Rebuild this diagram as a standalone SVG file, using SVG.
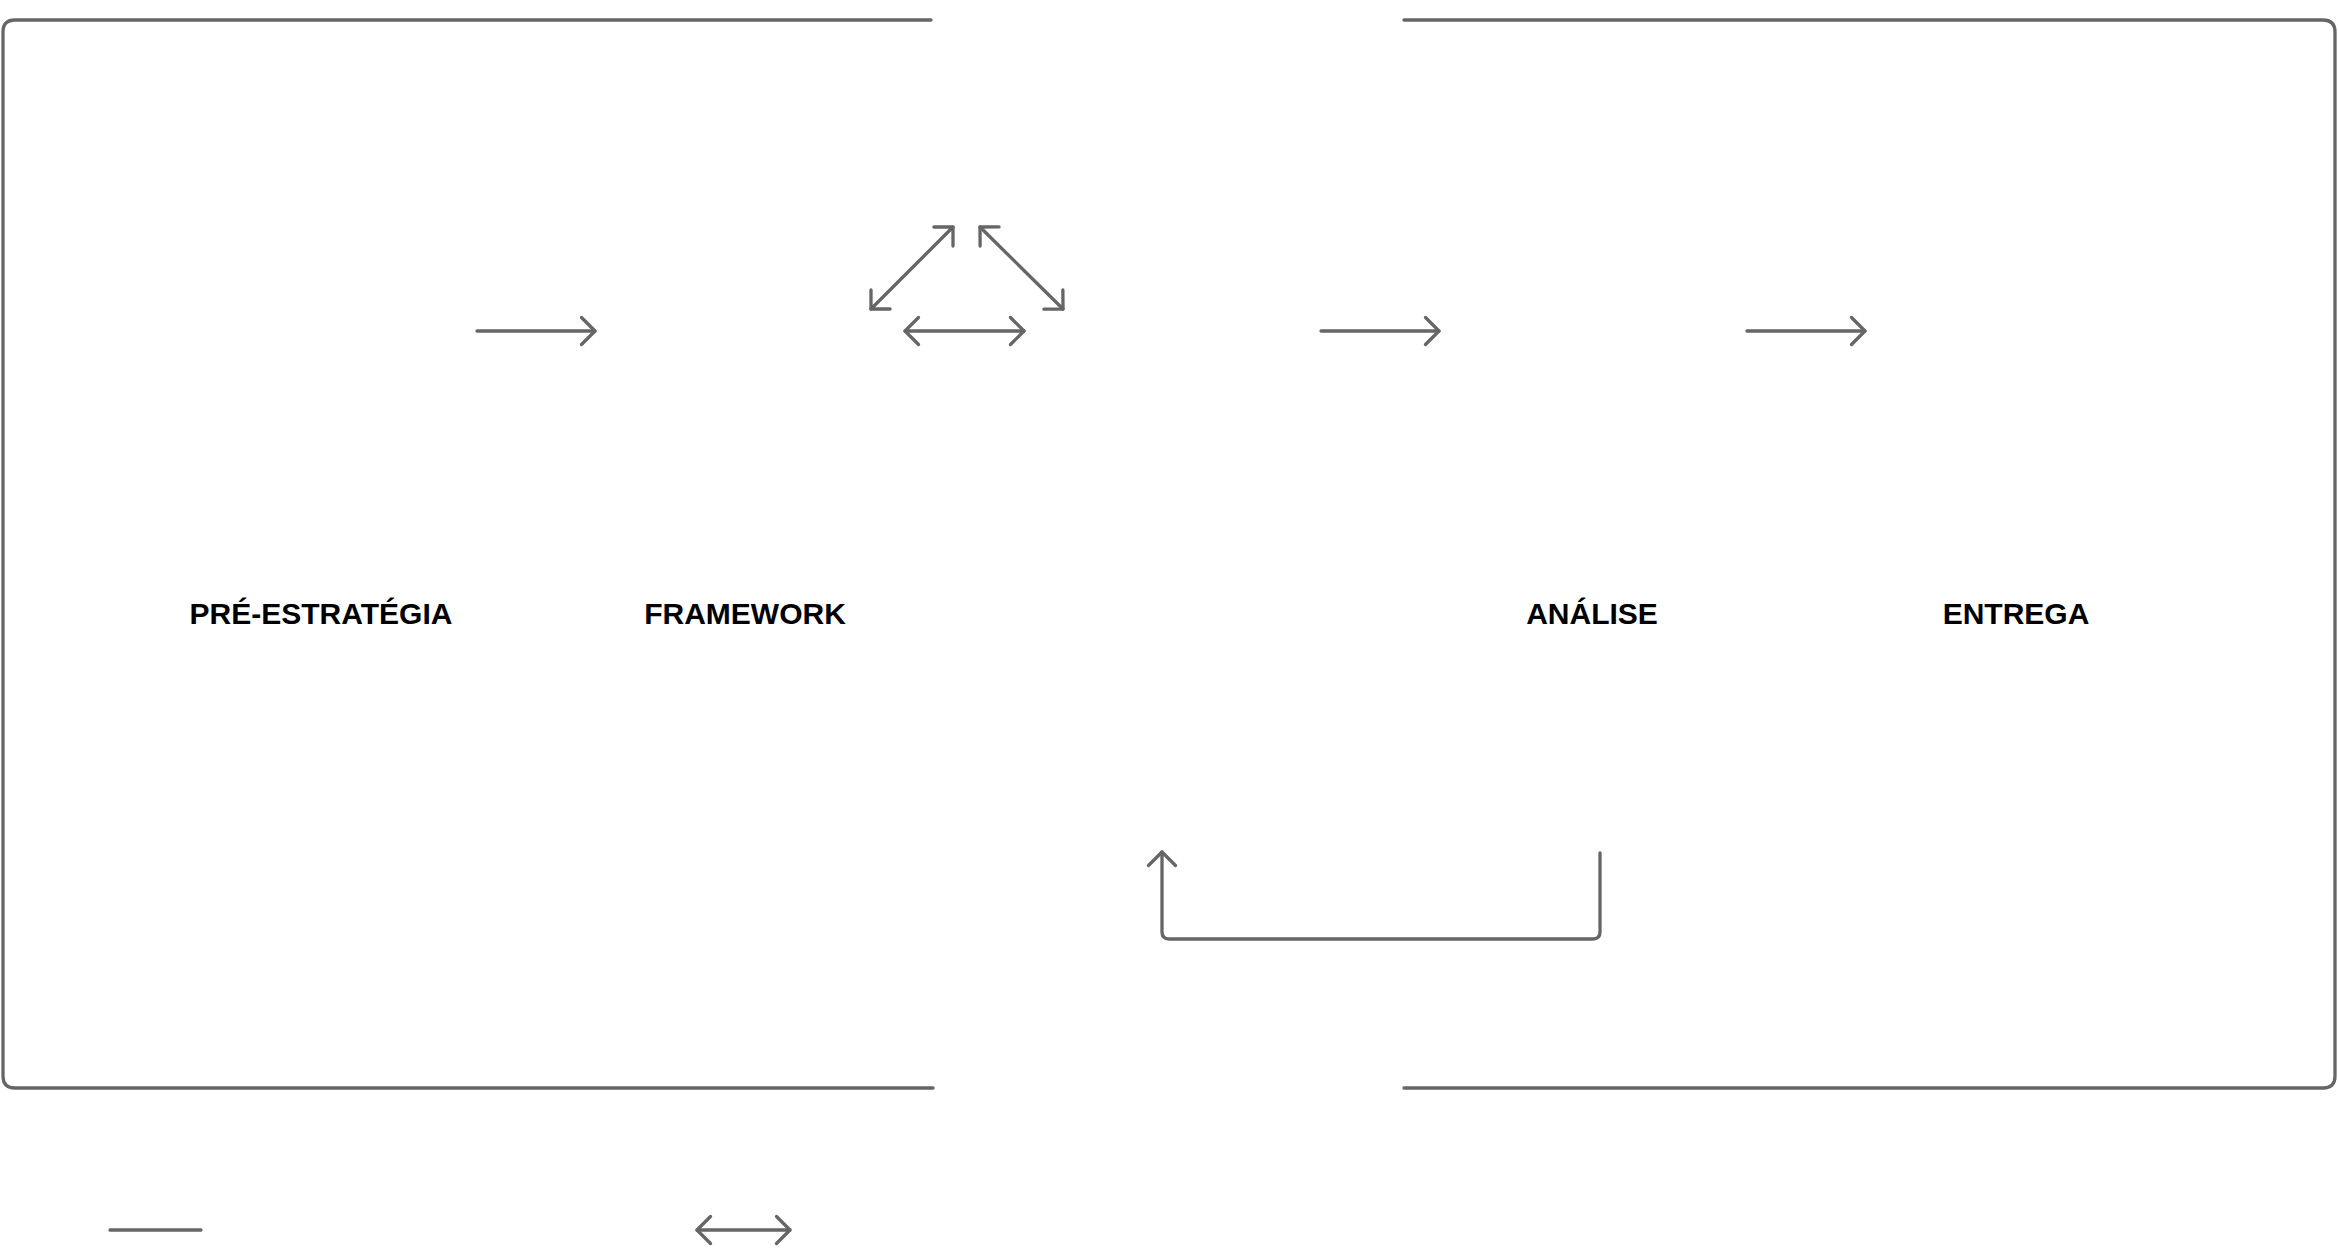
<svg xmlns="http://www.w3.org/2000/svg" width="2338" height="1252" viewBox="0 0 2338 1252">
<style>
.ln{fill:none;stroke:#666666;stroke-width:3.3;stroke-linecap:round;stroke-linejoin:round}
.lbl{font-family:"Liberation Sans",Arial,sans-serif;font-weight:700;font-size:30px;fill:#000000;text-anchor:middle}
</style>
<defs>
<marker id="ah" markerUnits="userSpaceOnUse" viewBox="-16 -16 20 32" refX="0" refY="0" markerWidth="20" markerHeight="32" orient="auto-start-reverse">
<path d="M-13.5,-13.5 L0,0 L-13.5,13.5" fill="none" stroke="#666666" stroke-width="3.3" stroke-linecap="round" stroke-linejoin="round"/>
</marker>
</defs>
<g id="frame">
<path class="ln" d="M931,20 H15 Q3,20 3,32 V1076 Q3,1088 15,1088 H933"/>
<path class="ln" d="M1404,20 H2323 Q2335,20 2335,32 V1076 Q2335,1088 2323,1088 H1404"/>
</g>
<g id="node-pre-estrategia"><text class="lbl" x="321" y="624">PRÉ-ESTRATÉGIA</text></g>
<g id="node-framework"><text class="lbl" x="745" y="624">FRAMEWORK</text></g>
<g id="node-analise"><text class="lbl" x="1592" y="624">ANÁLISE</text></g>
<g id="node-entrega"><text class="lbl" x="2016" y="624">ENTREGA</text></g>
<g id="connectors">
<line class="ln" x1="477" y1="331" x2="595" y2="331" marker-end="url(#ah)"/>
<line class="ln" x1="1321" y1="331" x2="1439" y2="331" marker-end="url(#ah)"/>
<line class="ln" x1="1747" y1="331" x2="1865" y2="331" marker-end="url(#ah)"/>
<line class="ln" x1="871" y1="309" x2="953" y2="227" marker-start="url(#ah)" marker-end="url(#ah)"/>
<line class="ln" x1="980" y1="227" x2="1063" y2="309" marker-start="url(#ah)" marker-end="url(#ah)"/>
<line class="ln" x1="905" y1="331" x2="1024" y2="331" marker-start="url(#ah)" marker-end="url(#ah)"/>
<path class="ln" d="M1600,853 V932 Q1600,939 1593,939 H1169 Q1162,939 1162,932 V852" marker-end="url(#ah)"/>
</g>
<g id="legend">
<line class="ln" x1="110" y1="1230" x2="201" y2="1230" stroke-linecap="butt"/>
<line class="ln" x1="697" y1="1230" x2="790" y2="1230" marker-start="url(#ah)" marker-end="url(#ah)"/>
</g>
</svg>
